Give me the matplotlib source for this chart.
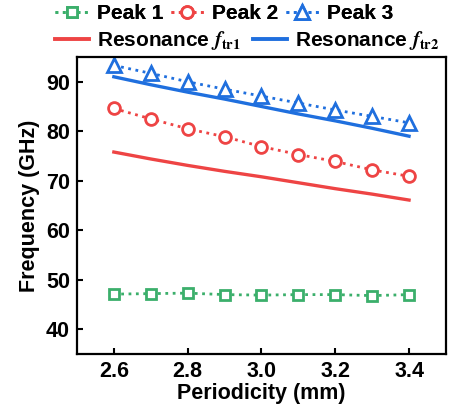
import matplotlib
matplotlib.use("Agg")
import matplotlib.pyplot as plt
from matplotlib.lines import Line2D

plt.rcParams['font.family'] = ['Liberation Sans', 'DejaVu Sans']
plt.rcParams['font.weight'] = 'bold'
plt.rcParams['mathtext.fontset'] = 'stix'

periodicity = [2.6, 2.7, 2.8, 2.9, 3.0, 3.1, 3.2, 3.3, 3.4]
peak1 = [47.1, 47.2, 47.3, 47.0, 46.9, 47.0, 47.0, 46.8, 47.0]
peak2 = [84.6, 82.5, 80.5, 78.9, 76.9, 75.3, 73.9, 72.2, 70.9]
peak3 = [93.3, 91.7, 90.0, 88.5, 87.1, 85.7, 84.3, 83.0, 81.7]
ftr1 = [75.8, 74.4, 73.1, 71.9, 70.8, 69.6, 68.4, 67.3, 66.1]
ftr2 = [91.0, 89.4, 87.9, 86.5, 85.0, 83.5, 82.1, 80.6, 79.0]

xticks = [2.6, 2.8, 3.0, 3.2, 3.4]
yticks = [40, 50, 60, 70, 80, 90]

green = '#3BAF6B'
red = '#EE4444'
blue = '#1F6FDE'

FS = 15.5
LFS = 15

fig = plt.figure(figsize=(4.5, 4.16), dpi=100)
ax = fig.add_axes([0.171, 0.149, 0.82, 0.714])

ax.plot(periodicity, ftr1, '-', color=red, lw=2.4)
ax.plot(periodicity, ftr2, '-', color=blue, lw=2.4)
ax.plot(periodicity, peak1, ':', color=green, lw=2, marker='s', ms=7,
        mfc='white', mec=green, mew=2)
ax.plot(periodicity, peak2, ':', color=red, lw=2, marker='o', ms=8.5,
        mfc='white', mec=red, mew=2)
ax.plot(periodicity, peak3, ':', color=blue, lw=2, marker='^', ms=9.5,
        mfc='white', mec=blue, mew=2)

ax.set_xlim(2.5, 3.5)
ax.set_ylim(35, 95)
ax.set_xticks(xticks)
ax.set_xticklabels([f'{v:.1f}' for v in xticks])
ax.set_yticks(yticks)
ax.tick_params(direction='in', length=4, width=1.5, labelsize=FS, pad=5)
for s in ax.spines.values():
    s.set_linewidth(1.6)
ax.set_xlabel('Periodicity (mm)', fontsize=FS, fontweight='bold', labelpad=1)
ax.set_ylabel('Frequency (GHz)', fontsize=FS, fontweight='bold', labelpad=4)

h1 = [Line2D([], [], ls=':', color=green, lw=2, marker='s', ms=7, mfc='white', mec=green, mew=2),
      Line2D([], [], ls=':', color=red, lw=2, marker='o', ms=8.5, mfc='white', mec=red, mew=2),
      Line2D([], [], ls=':', color=blue, lw=2, marker='^', ms=9.5, mfc='white', mec=blue, mew=2)]
leg1 = fig.legend(h1, ['Peak 1', 'Peak 2', 'Peak 3'], loc='center left',
                  bbox_to_anchor=(0.095, 0.968), ncol=3, frameon=False,
                  fontsize=LFS, handlelength=1.6, handletextpad=0.4,
                  columnspacing=0.35, borderpad=0.1)
h2 = [Line2D([], [], ls='-', color=red, lw=2.8),
      Line2D([], [], ls='-', color=blue, lw=2.8)]
leg2 = fig.legend(h2, [r'Resonance $f_{\mathbf{tr1}}$', r'Resonance $f_{\mathbf{tr2}}$'],
                  loc='center left', bbox_to_anchor=(0.095, 0.902), ncol=2,
                  frameon=False, fontsize=LFS, handlelength=1.6,
                  handletextpad=0.4, columnspacing=0.6, borderpad=0.1)
fig.add_artist(leg1)

fig.savefig('out.png', dpi=100)
